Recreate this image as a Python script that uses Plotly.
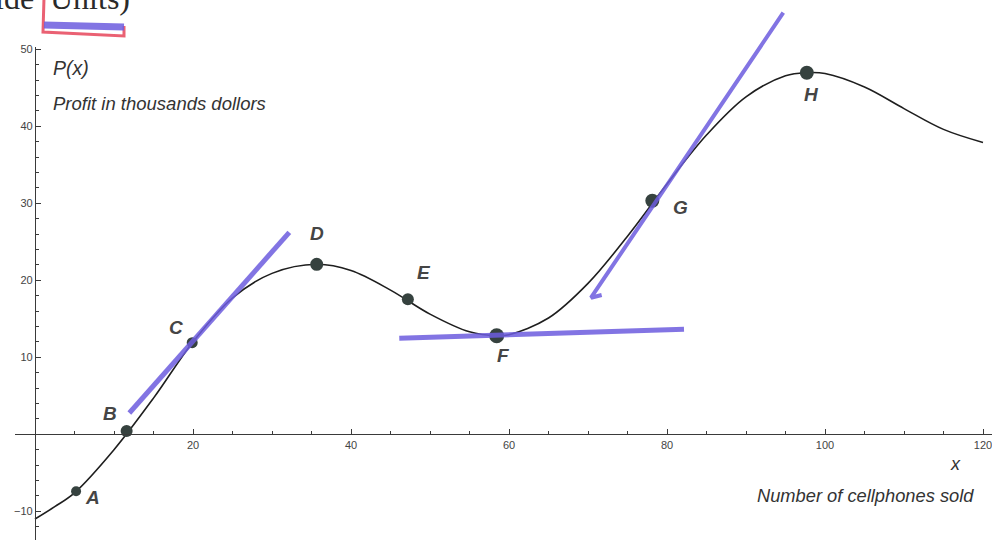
import plotly.graph_objects as go

# ---------------- data ----------------
curve_x = [0, 2.5, 5, 10, 15, 20, 25, 30, 35.66, 40, 45, 50, 55, 58.44, 60, 65, 70, 75,
           80, 85, 90, 95, 97.7, 100, 105, 110, 115, 120]
curve_y = [-11.0, -9.4, -7.6, -2.0, 4.7, 12.0, 17.7, 20.9, 22.08, 21.27, 18.73, 15.61,
           13.31, 12.8, 12.93, 15.10, 19.60, 25.73, 32.51, 38.87, 43.83, 46.56, 46.96,
           46.85, 45.1, 42.3, 39.6, 37.9]

point_labels = ["A", "B", "C", "D", "E", "F", "G", "H"]
point_x = [5.2, 11.6, 19.9, 35.66, 47.2, 58.44, 78.14, 97.7]
point_y = [-7.4, 0.43, 11.9, 22.08, 17.55, 12.8, 30.34, 46.96]
point_size = [10, 12, 11, 13, 12, 15, 14, 14]
label_dx = [16, -17, -16, 0, 16, 7, 28, 5]
label_dy = [-6, 17, 15, 31, 27, -20, -7, -22]

x_tick_vals = [20, 40, 60, 80, 100, 120]
y_tick_vals = [-10, 10, 20, 30, 40, 50]

# hand-drawn tangent strokes
c_line_x = [11.94, 32.19]
c_line_y = [2.77, 26.23]
f_line_x = [46.11, 82.15]
f_line_y = [12.47, 13.64]
g_line_x = [71.73, 70.38, 94.72]
g_line_y = [18.09, 17.74, 54.75]

# ---------------- layout geometry ----------------
W, H = 992, 540
PX_PER_X, PX_PER_Y = 7.9, 7.7
X0_PX, Y0_PX = 35.0, 434.3   # pixel position of the origin
AX_LEFT_PX, AX_TOP_PX = 15.0, 47.0


def xr(px):
    return (px - X0_PX) / PX_PER_X


def yr(py):
    return (Y0_PX - py) / PX_PER_Y


def pxp(px):
    return px / W


def pyp(py):
    return 1 - py / H


ink = "#3a3a3a"
purple = "rgba(108,92,222,0.85)"
dot = "#36423f"

fig = go.Figure()

fig.add_trace(go.Scatter(
    x=curve_x, y=curve_y, mode="lines",
    line=dict(color="#1e1e1e", width=1.6, shape="spline", smoothing=1.0),
    xaxis="x", yaxis="y", hoverinfo="skip", showlegend=False))

fig.add_trace(go.Scatter(
    x=point_x, y=point_y, mode="markers",
    marker=dict(color=dot, size=point_size, opacity=1, line=dict(width=0)),
    xaxis="x", yaxis="y", showlegend=False, text=point_labels))

for lx, ly, w in [(c_line_x, c_line_y, 5), (f_line_x, f_line_y, 5), (g_line_x, g_line_y, 4)]:
    fig.add_trace(go.Scatter(
        x=lx, y=ly, mode="lines",
        line=dict(color=purple, width=w),
        xaxis="x2", yaxis="y2", hoverinfo="skip", showlegend=False))

annotations = []
for lab, x, y, dx, dy in zip(point_labels, point_x, point_y, label_dx, label_dy):
    annotations.append(dict(
        x=x, y=y, xref="x", yref="y", text=lab, showarrow=False,
        xshift=dx, yshift=dy,
        font=dict(family="Liberation Sans", size=19, color="#454545", style="italic", weight="bold")))

text_font = dict(family="Liberation Sans", color="#333333", style="italic")
annotations += [
    dict(x=pxp(51), y=pyp(68), xref="paper", yref="paper", text="P(x)", showarrow=False,
         xanchor="left", yanchor="middle", font=dict(size=19.5, **text_font)),
    dict(x=pxp(51), y=pyp(103), xref="paper", yref="paper", text="Profit in thousands dollors",
         showarrow=False, xanchor="left", yanchor="middle", font=dict(size=18.5, **text_font)),
    dict(x=pxp(955), y=pyp(464), xref="paper", yref="paper", text="x", showarrow=False,
         xanchor="center", yanchor="middle", font=dict(size=18, **text_font)),
    dict(x=pxp(976), y=pyp(495), xref="paper", yref="paper", text="Number of cellphones sold",
         showarrow=False, xanchor="right", yanchor="middle", font=dict(size=18.3, **text_font)),
    dict(x=pxp(36), y=pyp(18), xref="paper", yref="paper", text="ide", showarrow=False,
         xanchor="right", yanchor="bottom",
         font=dict(family="Liberation Serif", size=32, color="#2a2a2a")),
    dict(x=pxp(48), y=pyp(18), xref="paper", yref="paper", text="Units)", showarrow=False,
         xanchor="left", yanchor="bottom",
         font=dict(family="Liberation Serif", size=32, color="#2a2a2a")),
]

shapes = [
    dict(type="path", xref="paper", yref="paper",
         path=f"M {pxp(44)},{pyp(-2)} L {pxp(43)},{pyp(32)} L {pxp(124)},{pyp(36)} L {pxp(124)},{pyp(26)}",
         line=dict(color="rgba(232,80,100,0.9)", width=3)),
    dict(type="line", xref="paper", yref="paper",
         x0=pxp(44), y0=pyp(25), x1=pxp(124), y1=pyp(27),
         line=dict(color=purple, width=7)),
]

tickfont = dict(family="Liberation Sans", size=11, color="#444444")
x_minor = [v for v in range(0, 125, 5) if v % 20 != 0]
y_minor = [v for v in range(-12, 51, 2) if v % 10 != 0]

fig.update_layout(
    template="none",
    width=W, height=H,
    margin=dict(l=0, r=0, t=0, b=0, pad=0, autoexpand=False),
    paper_bgcolor="white", plot_bgcolor="rgba(0,0,0,0)",
    showlegend=False,
    annotations=annotations, shapes=shapes,
    xaxis=dict(
        domain=[pxp(AX_LEFT_PX), 1], range=[xr(AX_LEFT_PX), xr(W)],
        anchor="free", position=pyp(Y0_PX), automargin=False,
        showgrid=False, zeroline=False, showline=True, linecolor=ink, linewidth=1.2,
        tickmode="array", tickvals=x_tick_vals, ticks="inside", ticklen=5, tickcolor=ink,
        tickfont=tickfont, ticklabeloverflow="allow",
        minor=dict(tickmode="array", tickvals=x_minor, ticks="inside", ticklen=3, tickcolor=ink,
                   showgrid=False),
    ),
    yaxis=dict(
        domain=[0, pyp(AX_TOP_PX)], range=[yr(H), yr(AX_TOP_PX)],
        anchor="free", position=pxp(X0_PX), automargin=False,
        showgrid=False, zeroline=False, showline=True, linecolor=ink, linewidth=1.2,
        tickmode="array", tickvals=y_tick_vals, ticks="inside", ticklen=5, tickcolor=ink,
        tickfont=tickfont, ticklabeloverflow="allow",
        minor=dict(tickmode="array", tickvals=y_minor, ticks="inside", ticklen=3, tickcolor=ink,
                   showgrid=False),
    ),
    xaxis2=dict(domain=[0, 1], range=[xr(0), xr(W)], anchor="y2", visible=False,
                automargin=False),
    yaxis2=dict(domain=[0, 1], range=[yr(H), yr(0)], anchor="x2", visible=False,
                automargin=False),
)

fig.write_html("out.html", config={"displayModeBar": False},
               post_script="document.body.style.margin='0';document.body.style.overflow='hidden';")
